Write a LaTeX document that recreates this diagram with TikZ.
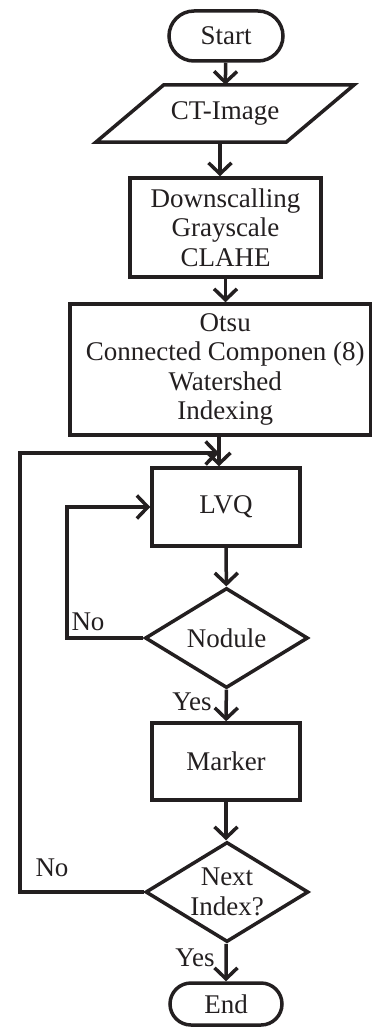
\documentclass[tikz,border=0pt]{standalone}
\usepackage{fontspec}
\setmainfont{Liberation Serif}
\usetikzlibrary{shapes.misc,shapes.geometric,arrows.meta,calc}
\definecolor{ink}{HTML}{231F20}
\begin{document}
\begin{tikzpicture}[x=1pt,y=1pt,
  every node/.style={text=ink,font=\fontsize{27}{29.5}\selectfont,align=center,inner sep=0pt},
  frame/.style={draw=ink,line width=3.5pt},
  terminal/.style={frame,rounded rectangle,minimum width=114pt,minimum height=50pt},
  procbox/.style={frame,rectangle},
  decision/.style={frame,diamond,aspect=1.63,minimum width=163pt,minimum height=100pt},
  arr/.style={draw=ink,line width=3.5pt,-{Straight Barb[length=11pt,width=23pt]}},
  line/.style={draw=ink,line width=3.5pt}]
\useasboundingbox (0,0) rectangle (373,-1027);

% main flow
\node[terminal] (start) at (226,-36) {Start};
\node[minimum width=258pt,minimum height=57pt] (ct) at (225,-113.5) {CT-Image};
\draw[frame,line join=miter] (ct.south west) -- ([xshift=68pt]ct.north west) -- (ct.north east)
  -- ([xshift=-68pt]ct.south east) -- cycle;
\node[procbox,minimum width=191pt,minimum height=99pt] (pre) at (225.5,-227.5)
  {Downscalling\\Grayscale\\CLAHE};
\node[procbox,minimum width=300.5pt,minimum height=131pt] (seg) at (220.25,-369.5)
  {\hspace*{10pt}Otsu\\\hspace*{10pt}Connected Componen (8)\\\hspace*{10pt}Watershed\\\hspace*{10pt}Indexing};
\node[procbox,minimum width=148pt,minimum height=78pt] (lvq) at (226,-507) {LVQ};
\node[decision] (nodule) at (226.5,-638) {Nodule};
\node[procbox,minimum width=148pt,minimum height=77pt] (marker) at (226,-761.5) {Marker};
\node[decision] (next) at (227,-892) {Next\\Index?};
\node[terminal,minimum width=112pt,minimum height=42pt] (end) at (226,-1004) {End};

% helper columns
\coordinate (cx) at (220,0);
\coordinate (jx) at (219,0);
\coordinate (lx) at (20,0);
\coordinate (ix) at (67,0);
\coordinate (merge) at (219,-453);

% connectors
\draw[arr] (start) -- (ct);
\draw[arr] (ct.south -| cx) -- (pre.north -| cx);
\draw[arr] (pre) -- (pre.south |- seg.north);
\draw[arr] (seg.south -| jx) -- (lvq.north -| jx);
\draw[arr] (lvq) -- (nodule);
\draw[arr] (nodule) -- (marker);
\draw[arr] (marker) -- (next.north -| marker);
\draw[arr] (next.south -| end) -- (end);
\draw[arr] (nodule.west) -- (nodule.west -| ix) |- (lvq.west);
\draw[arr] (next.west) -- (next.west -| lx) |- (merge);

% branch labels
\node (no1) at (88,-622) {No};
\node (yes1) at (192,-702) {Yes};
\node (no2) at (52,-868) {No};
\node (yes2) at (195,-958) {Yes};
\end{tikzpicture}
\end{document}
